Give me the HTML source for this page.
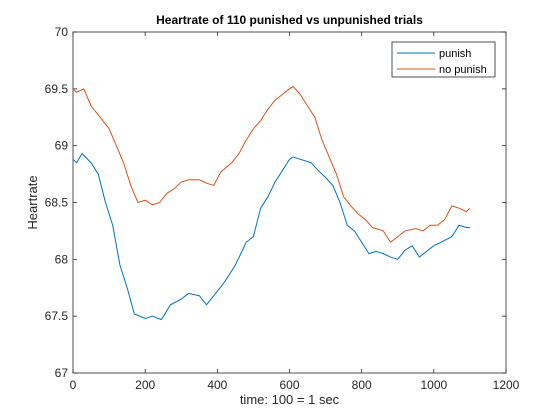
<!DOCTYPE html>
<html><head><meta charset="utf-8"><style>
html,body{margin:0;padding:0;background:#fff;}
svg{display:block;font-family:"Liberation Sans",Arial,sans-serif;}
</style></head><body>
<svg id="chart" width="560" height="420" viewBox="0 0 560 420">
<rect x="0" y="0" width="560" height="420" fill="#fff"/>
<g id="plot"></g>
</svg>
<script>
const xTicks=[0,200,400,600,800,1000,1200];
const yTicks=[67,67.5,68,68.5,69,69.5,70];
const xTickLabels=["0","200","400","600","800","1000","1200"];
const yTickLabels=["67","67.5","68","68.5","69","69.5","70"];
const punishX=[0,10,25,50,70,90,110,130,150,170,200,220,245,270,300,320,350,370,400,420,450,480,500,520,540,560,580,600,610,640,660,680,700,720,740,760,780,800,820,840,860,880,900,920,940,960,980,1000,1020,1050,1070,1090,1100];
const punishY=[68.88,68.85,68.93,68.85,68.75,68.5,68.3,67.95,67.75,67.52,67.48,67.5,67.47,67.6,67.65,67.7,67.68,67.6,67.72,67.8,67.95,68.15,68.2,68.45,68.55,68.68,68.78,68.88,68.9,68.87,68.85,68.78,68.72,68.65,68.5,68.3,68.25,68.15,68.05,68.07,68.05,68.02,68.0,68.08,68.12,68.02,68.07,68.12,68.15,68.2,68.3,68.28,68.28];
const noPunishX=[0,10,30,50,70,100,120,140,160,180,200,220,240,260,280,300,320,350,370,390,410,440,460,480,500,520,540,560,580,600,610,630,650,670,690,710,730,750,770,790,810,830,860,880,900,920,950,970,990,1010,1030,1050,1070,1090,1100];
const noPunishY=[69.5,69.47,69.5,69.35,69.27,69.15,69.0,68.85,68.65,68.5,68.52,68.48,68.5,68.58,68.62,68.68,68.7,68.7,68.67,68.65,68.77,68.85,68.93,69.05,69.15,69.22,69.32,69.4,69.45,69.5,69.52,69.45,69.35,69.25,69.05,68.9,68.75,68.55,68.47,68.4,68.35,68.28,68.25,68.15,68.2,68.25,68.27,68.25,68.3,68.3,68.35,68.47,68.45,68.42,68.45];

const L=73,R=506,T=32,B=373;
const sx=v=>L+(v-0)/(1200-0)*(R-L);
const sy=v=>B-(v-67)/(70-67)*(B-T);
const NS="http://www.w3.org/2000/svg";
const g=document.getElementById('plot');
function mk(tag,attrs,parent){const e=document.createElementNS(NS,tag);for(const k in attrs)e.setAttribute(k,attrs[k]);(parent||g).appendChild(e);return e;}

// axes box
const box=mk('rect',{x:L,y:T,width:R-L,height:B-T,fill:'#fff',stroke:'#262626','stroke-width':0.8});



xTicks.forEach((v,i)=>{
  const x=sx(v);
  const t1=mk('line',{x1:x,x2:x,y1:B,y2:B-4,stroke:'#262626','stroke-width':0.8});
  
  
  const t2=mk('line',{x1:x,x2:x,y1:T,y2:T+4,stroke:'#262626','stroke-width':0.8});
  
  
  const tx=mk('text',{x:x,y:B+16,'text-anchor':'middle','font-size':12,fill:'#262626'});
  tx.textContent=xTickLabels[i];
  
  
});
yTicks.forEach((v,i)=>{
  const y=sy(v);
  const t1=mk('line',{x1:L,x2:L+4,y1:y,y2:y,stroke:'#262626','stroke-width':0.8});
  
  
  const t2=mk('line',{x1:R,x2:R-4,y1:y,y2:y,stroke:'#262626','stroke-width':0.8});
  
  
  const tx=mk('text',{x:L-5,y:y+4,'text-anchor':'end','font-size':12,fill:'#262626'});
  tx.textContent=yTickLabels[i];
  
  
});

function series(xs,ys,color,name){
  const d=xs.map((x,i)=>(i?'L':'M')+sx(x).toFixed(2)+','+sy(ys[i]).toFixed(2)).join('');
  const p=mk('path',{d:d,fill:'none',stroke:color,'stroke-width':1});
  
  
}
series(punishX,punishY,'#0072BD','punish-line');
series(noPunishX,noPunishY,'#D95319','no-punish-line');

// legend
const lg=mk('g',{});


const lb=mk('rect',{x:392,y:42,width:103,height:35,fill:'#fff',stroke:'#262626','stroke-width':0.8},lg);


[['punish','#0072BD',53],['no punish','#D95319',69]].forEach(([lab,c,y])=>{
  const ln=mk('line',{x1:397,x2:435,y1:y,y2:y,stroke:c,'stroke-width':1},lg);
  
  
  const t=mk('text',{x:439,y:y+4,'font-size':11,fill:'#000'},lg);
  t.textContent=lab;
  
  
});

const title=mk('text',{x:(L+R)/2,y:24,'text-anchor':'middle','font-size':12,'font-weight':'bold',fill:'#000'});
title.textContent='Heartrate of 110 punished vs unpunished trials';


const xl=mk('text',{x:(L+R)/2,y:404,'text-anchor':'middle','font-size':13,fill:'#262626'});
xl.textContent='time: 100 = 1 sec';


const yl=mk('text',{x:0,y:0,'text-anchor':'middle','font-size':13,fill:'#262626',transform:'translate(37,'+((T+B)/2)+') rotate(-90)'});
yl.textContent='Heartrate';


</script>
</body></html>
